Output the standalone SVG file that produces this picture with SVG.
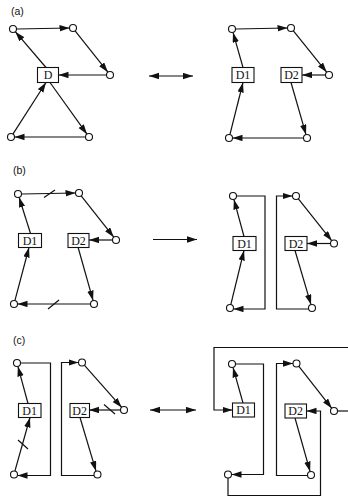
<svg xmlns="http://www.w3.org/2000/svg" width="348" height="498" viewBox="0 0 348 498">
<style>
.e{fill:none;stroke:#111;stroke-width:1.2}
.a{marker-end:url(#ah)}
.d{marker-start:url(#ah);marker-end:url(#ah)}
.n{fill:#fff;stroke:#111;stroke-width:1.1}
.b{fill:#fff;stroke:#111;stroke-width:1.1}
.t{font-family:"Liberation Serif",serif;font-size:12px;fill:#111;text-anchor:middle}
.l{font-family:"Liberation Sans",Arial,sans-serif;font-size:10.5px;fill:#111}
</style>
<defs>
<marker id="ah" markerUnits="userSpaceOnUse" markerWidth="11" markerHeight="7" refX="10" refY="3.2" orient="auto-start-reverse"><path d="M0,0 L10,3.2 L0,6.4 z" fill="#111"/></marker>
</defs>
<rect width="348" height="498" fill="#fff"/>
<text class="l" x="11" y="15">(a)</text>
<text class="l" x="13" y="174">(b)</text>
<text class="l" x="13" y="344">(c)</text>
<g id="connectors">
<!-- (a) left -->
<path class="e a" d="M16.5,29 L69.5,28"/>
<path class="e a" d="M75.1,30.8 L107.9,72.2"/>
<path class="e a" d="M106.5,75 L58.5,75"/>
<path class="e a" d="M46,67.5 L15.3,31.7"/>
<path class="e a" d="M50,82.5 L87,134.2"/>
<path class="e a" d="M85.5,137 L14.5,137"/>
<path class="e a" d="M12.9,134.1 L46,82.5"/>
<path class="e d" d="M149,76 L193,76"/>
<!-- (a) right -->
<path class="e a" d="M235.5,29 L287.5,28"/>
<path class="e a" d="M293.2,30.7 L326.8,72.3"/>
<path class="e a" d="M325.5,75 L302,75"/>
<path class="e a" d="M243,67.5 L233,32.4"/>
<path class="e a" d="M291,82.5 L306,134.6"/>
<path class="e a" d="M303.5,138 L232.5,138"/>
<path class="e a" d="M229.9,134.6 L243,82.5"/>
<!-- (b) left -->
<path class="e a" d="M21.5,194 L75.5,193"/>
<path class="e" d="M44,197.5 L55,190"/>
<path class="e a" d="M81.2,195.8 L113.8,237.2"/>
<path class="e a" d="M112.5,240 L89,240"/>
<path class="e a" d="M78,247 L93.1,300.6"/>
<path class="e a" d="M90.5,304 L17.5,304"/>
<path class="e" d="M48,309 L59,300"/>
<path class="e a" d="M14.9,300.6 L29,247.5"/>
<path class="e a" d="M30.5,233.5 L19.1,197.3"/>
<path class="e a" d="M153,239.5 L197,239.5"/>
<!-- (b) right -->
<path class="e a" d="M236.5,196 H265 V309 H233.5"/>
<path class="e a" d="M244,236.5 L233.9,199.4"/>
<path class="e a" d="M230.8,304.6 L244,250.5"/>
<path class="e a" d="M308.5,309 H276.5 V196 H292.5"/>
<path class="e a" d="M298.2,198.7 L331.8,240.8"/>
<path class="e a" d="M330.5,243.5 L307,243.5"/>
<path class="e a" d="M295,250.5 L311,304.6"/>
<!-- (c) left -->
<path class="e a" d="M20.5,363 H50.5 V475.5 H17.5"/>
<path class="e a" d="M28,403.5 L17.9,366.4"/>
<path class="e a" d="M14.9,471.1 L30,417.5"/>
<path class="e" d="M18,440 L28,449"/>
<path class="e a" d="M94,475.5 H61.5 V362.5 H78.5"/>
<path class="e a" d="M84.3,365.1 L121.7,407.4"/>
<path class="e a" d="M120.5,410 L89,410"/>
<path class="e" d="M104,404.5 L115,414"/>
<path class="e a" d="M80,417.5 L96,471.1"/>
<path class="e d" d="M150,410 L196,410"/>
<!-- (c) right -->
<path class="e" d="M337.5,411 H350"/>
<path class="e a" d="M350,347.5 H214 V410 H232.5"/>
<path class="e a" d="M235.5,364 H263.5 V474.5 H231.5"/>
<path class="e a" d="M228,478 V495.5 H320.5 V411 H306.5"/>
<path class="e a" d="M243,403 L233,367.4"/>
<path class="e a" d="M307.5,475.5 H276.5 V363.5 H293"/>
<path class="e a" d="M298.7,366.2 L331.8,408.3"/>
<path class="e a" d="M295,418 L310.1,471.6"/>
</g>
<!-- (a) left nodes -->
<g id="a-left-n1"><circle class="n" cx="13" cy="29" r="3.5"/></g>
<g id="a-left-n2"><circle class="n" cx="73" cy="28" r="3.5"/></g>
<g id="a-left-n3"><circle class="n" cx="110" cy="75" r="3.5"/></g>
<g id="a-left-n4"><circle class="n" cx="11" cy="137" r="3.5"/></g>
<g id="a-left-n5"><circle class="n" cx="89" cy="137" r="3.5"/></g>
<g id="a-left-D"><rect class="b" x="37.5" y="67.5" width="21" height="15"/><text class="t" x="48" y="79.3">D</text></g>
<!-- (a) right nodes -->
<g id="a-right-n1"><circle class="n" cx="232" cy="29" r="3.5"/></g>
<g id="a-right-n2"><circle class="n" cx="291" cy="28" r="3.5"/></g>
<g id="a-right-n3"><circle class="n" cx="329" cy="75" r="3.5"/></g>
<g id="a-right-n4"><circle class="n" cx="229" cy="138" r="3.5"/></g>
<g id="a-right-n5"><circle class="n" cx="307" cy="138" r="3.5"/></g>
<g id="a-right-D1"><rect class="b" x="232" y="67.5" width="22" height="15"/><text class="t" x="243" y="79.3">D1</text></g>
<g id="a-right-D2"><rect class="b" x="281" y="67.5" width="21" height="15"/><text class="t" x="291.5" y="79.3">D2</text></g>
<!-- (b) left nodes -->
<g id="b-left-n1"><circle class="n" cx="18" cy="194" r="3.5"/></g>
<g id="b-left-n2"><circle class="n" cx="79" cy="193" r="3.5"/></g>
<g id="b-left-n3"><circle class="n" cx="116" cy="240" r="3.5"/></g>
<g id="b-left-n4"><circle class="n" cx="14" cy="304" r="3.5"/></g>
<g id="b-left-n5"><circle class="n" cx="94" cy="304" r="3.5"/></g>
<g id="b-left-D1"><rect class="b" x="18.5" y="233.5" width="23" height="14"/><text class="t" x="30" y="244.8">D1</text></g>
<g id="b-left-D2"><rect class="b" x="68" y="233.5" width="21" height="14"/><text class="t" x="78.5" y="244.8">D2</text></g>
<!-- (b) right nodes -->
<g id="b-right-n1"><circle class="n" cx="233" cy="196" r="3.5"/></g>
<g id="b-right-n2"><circle class="n" cx="296" cy="196" r="3.5"/></g>
<g id="b-right-n3"><circle class="n" cx="334" cy="243.5" r="3.5"/></g>
<g id="b-right-n4"><circle class="n" cx="230" cy="308" r="3.5"/></g>
<g id="b-right-n5"><circle class="n" cx="312" cy="308" r="3.5"/></g>
<g id="b-right-D1"><rect class="b" x="233" y="236.5" width="23" height="14"/><text class="t" x="244.5" y="247.8">D1</text></g>
<g id="b-right-D2"><rect class="b" x="285" y="236.5" width="22" height="14"/><text class="t" x="296" y="247.8">D2</text></g>
<!-- (c) left nodes -->
<g id="c-left-n1"><circle class="n" cx="17" cy="363" r="3.5"/></g>
<g id="c-left-n2"><circle class="n" cx="82" cy="362.5" r="3.5"/></g>
<g id="c-left-n3"><circle class="n" cx="124" cy="410" r="3.5"/></g>
<g id="c-left-n4"><circle class="n" cx="14" cy="474.5" r="3.5"/></g>
<g id="c-left-n5"><circle class="n" cx="97.5" cy="474.5" r="3.5"/></g>
<g id="c-left-D1"><rect class="b" x="18.5" y="403.5" width="22.5" height="14"/><text class="t" x="29.7" y="414.8">D1</text></g>
<g id="c-left-D2"><rect class="b" x="70" y="403.5" width="19.5" height="14"/><text class="t" x="79.7" y="414.8">D2</text></g>
<!-- (c) right nodes -->
<g id="c-right-n1"><circle class="n" cx="232" cy="364" r="3.5"/></g>
<g id="c-right-n2"><circle class="n" cx="296.5" cy="363.5" r="3.5"/></g>
<g id="c-right-n3"><circle class="n" cx="334" cy="411" r="3.5"/></g>
<g id="c-right-n4"><circle class="n" cx="228" cy="474.5" r="3.5"/></g>
<g id="c-right-n5"><circle class="n" cx="311" cy="475" r="3.5"/></g>
<g id="c-right-D1"><rect class="b" x="232.5" y="403" width="22" height="14"/><text class="t" x="243.5" y="414.3">D1</text></g>
<g id="c-right-D2"><rect class="b" x="285" y="404" width="21.5" height="14"/><text class="t" x="295.7" y="415.3">D2</text></g>
</svg>
